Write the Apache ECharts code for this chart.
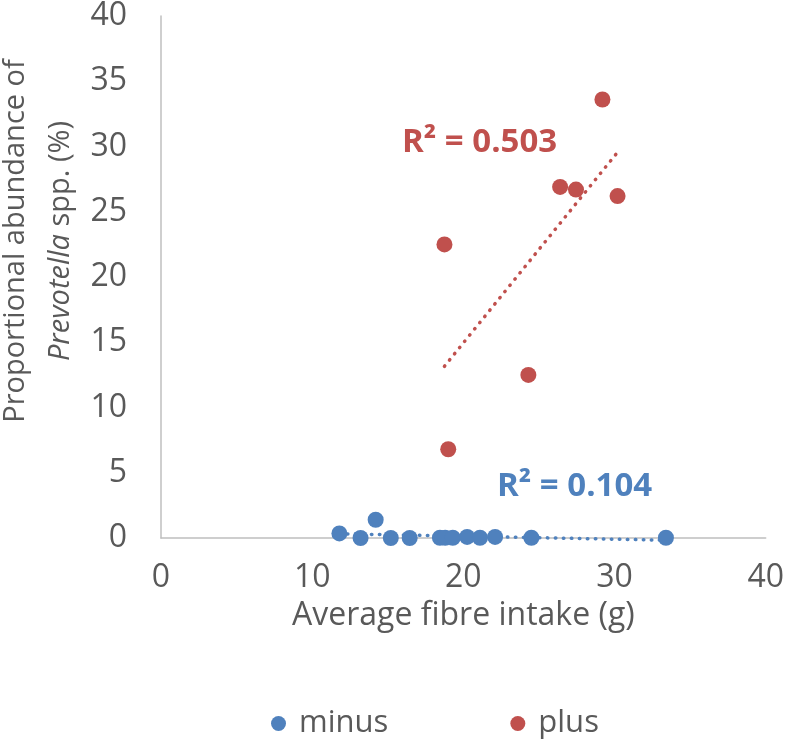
<!DOCTYPE html>
<html><head><meta charset="utf-8">
<script src="https://cdn.jsdelivr.net/npm/echarts@6/dist/echarts.min.js"></script>
<style>html,body{margin:0;padding:0;background:#fff}#c{width:787px;height:746px}</style>
</head><body><div id="c"></div>
<script>
const minusX = [11.8, 13.2, 14.2, 15.2, 16.45, 18.45, 18.8, 19.3, 20.25, 21.1, 22.1, 24.5, 33.4];
const minusY = [0.35, 0.0, 1.4, 0.0, 0.0, 0.02, 0.02, 0.02, 0.08, 0.02, 0.08, 0.02, 0.02];
const plusX = [18.75, 19.0, 24.3, 26.4, 27.45, 29.2, 30.2];
const plusY = [22.5, 6.8, 12.5, 26.9, 26.7, 33.6, 26.2];
const seriesNames = ['minus', 'plus'];
const r2Labels = ['R² = 0.104', 'R² = 0.503'];
const xTitle = 'Average fibre intake (g)';

const BLUE = '#4F81BD', RED = '#C0504D', GRAY = '#595959', FONT = 'Open Sans';

function fit(xs, ys) {
  const n = xs.length;
  const mx = xs.reduce((a, b) => a + b, 0) / n, my = ys.reduce((a, b) => a + b, 0) / n;
  let sxy = 0, sxx = 0;
  for (let i = 0; i < n; i++) { sxy += (xs[i] - mx) * (ys[i] - my); sxx += (xs[i] - mx) ** 2; }
  const b = sxy / sxx, a = my - b * mx;
  const x0 = Math.min(...xs), x1 = Math.max(...xs);
  return [[x0, a + b * x0], [x1, a + b * x1]];
}
const zip = (xs, ys) => xs.map((x, i) => [x, ys[i]]);

const chart = echarts.init(document.getElementById('c'));
chart.setOption({
  animation: false,
  grid: { left: 161, right: 19, top: 12, bottom: 208 },
  xAxis: {
    type: 'value', min: 0, max: 40, interval: 10,
    axisLine: { lineStyle: { color: '#BFBFBF', width: 1.5 } },
    axisTick: { show: false }, splitLine: { show: false },
    axisLabel: { color: GRAY, fontFamily: FONT, fontSize: 32, margin: 24 },
    name: xTitle, nameLocation: 'middle', nameGap: 62,
    nameTextStyle: { color: GRAY, fontFamily: FONT, fontSize: 32 }
  },
  yAxis: {
    type: 'value', min: 0, max: 40, interval: 5,
    axisLine: { show: true, lineStyle: { color: '#BFBFBF', width: 1.5 } },
    axisTick: { show: false }, splitLine: { show: false },
    axisLabel: { color: GRAY, fontFamily: FONT, fontSize: 32, margin: 34 }
  },
  legend: {
    data: seriesNames, left: 266, top: 703, itemGap: 122, icon: 'circle',
    itemWidth: 15, itemHeight: 15,
    textStyle: { color: GRAY, fontFamily: FONT, fontSize: 31, padding: [0, 0, 0, 8] }
  },
  graphic: [
    {
      type: 'text', x: 38, y: 241, rotation: Math.PI / 2,
      style: {
        text: '{a|Proportional abundance of}\n{i|Prevotella}{a| spp. (%)}',
        align: 'center', verticalAlign: 'middle',
        rich: {
          a: { fontFamily: FONT, fontSize: 29, fill: GRAY, lineHeight: 45 },
          i: { fontFamily: FONT, fontSize: 29, fill: GRAY, fontStyle: 'italic', lineHeight: 45 }
        }
      }
    },
    { type: 'text', x: 402, y: 143, style: { text: r2Labels[1], fill: RED, fontFamily: FONT, fontSize: 33, fontWeight: 'bold', verticalAlign: 'middle' } },
    { type: 'text', x: 497, y: 487, style: { text: r2Labels[0], fill: BLUE, fontFamily: FONT, fontSize: 33, fontWeight: 'bold', verticalAlign: 'middle' } }
  ],
  series: [
    { name: 'minus-trend', type: 'line', data: fit(minusX, minusY), showSymbol: false, silent: true, z: 1, clip: false,
      lineStyle: { color: BLUE, width: 3.5, type: [0.5, 7.5], cap: 'round' } },
    { name: 'plus-trend', type: 'line', data: fit(plusX, plusY), showSymbol: false, silent: true, z: 1,
      lineStyle: { color: RED, width: 3.5, type: [0.5, 7.5], cap: 'round' } },
    { name: seriesNames[0], type: 'scatter', data: zip(minusX, minusY), symbolSize: 16, clip: false, itemStyle: { color: BLUE, opacity: 1 }, z: 3 },
    { name: seriesNames[1], type: 'scatter', data: zip(plusX, plusY), symbolSize: 16, itemStyle: { color: RED, opacity: 1 }, z: 3 }
  ]
});
</script></body></html>
